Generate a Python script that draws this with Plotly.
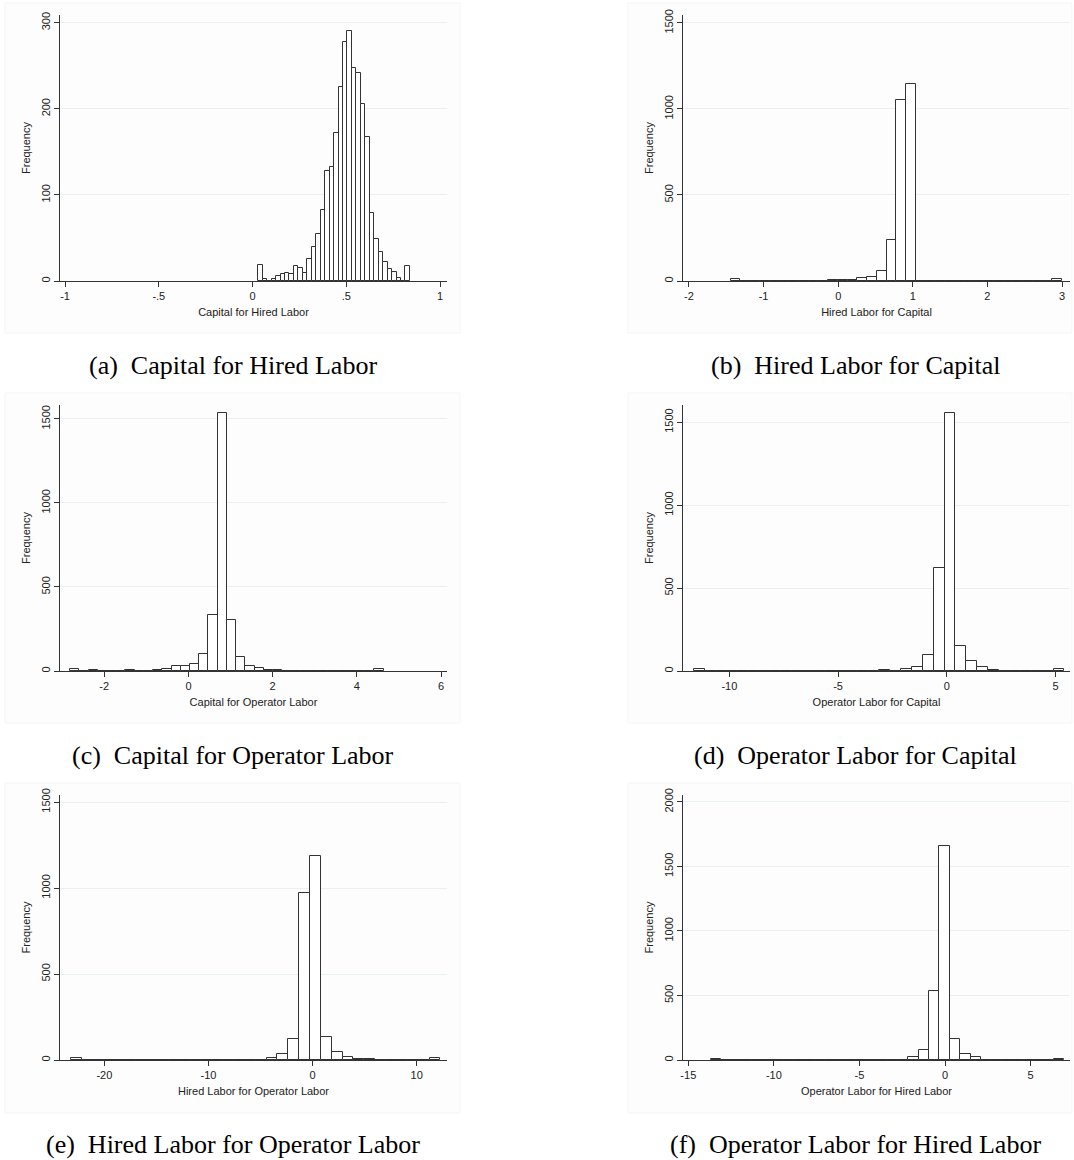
import numpy as np
import plotly.graph_objects as go

# ---------------- data ----------------
titles = ["Capital for Hired Labor", "Hired Labor for Capital",
          "Capital for Operator Labor", "Operator Labor for Capital",
          "Hired Labor for Operator Labor", "Operator Labor for Hired Labor"]
letters = ["(a)", "(b)", "(c)", "(d)", "(e)", "(f)"]

# histogram bin starts / widths (34 bins each) and frequencies
bin_start = [0.03, -1.44, -2.81, -11.63, -23.19, -13.68]
bin_width = [0.0238, 0.1306, 0.219, 0.501, 1.043, 0.607]

counts_a = [19, 2, 0, 2, 6, 8, 9, 8, 17, 15, 9, 25, 40, 55, 82, 128, 132, 172,
            225, 278, 290, 247, 242, 206, 167, 79, 49, 34, 22, 14, 10, 4, 0, 18]
counts_b = [10, 1, 1, 0, 0, 1, 1, 1, 1, 2, 3, 5, 8, 15, 26, 61, 240, 1050,
            1145, 0, 0, 0, 1, 1, 0, 1, 1, 1, 1, 1, 1, 0, 1, 10]
counts_c = [12, 0, 4, 0, 2, 2, 4, 2, 3, 5, 10, 30, 32, 40, 100, 334, 1536, 302,
            86, 28, 16, 8, 5, 3, 2, 1, 1, 1, 1, 1, 1, 1, 0, 12]
counts_d = [10, 1, 0, 0, 1, 1, 0, 0, 1, 1, 0, 1, 1, 1, 1, 0, 1, 5, 3, 10, 22,
            96, 621, 1554, 153, 58, 22, 4, 3, 0, 0, 0, 0, 10]
counts_e = [10, 2, 0, 1, 0, 1, 0, 1, 1, 1, 0, 1, 1, 1, 0, 0, 2, 2, 14, 33, 120,
            973, 1186, 132, 44, 19, 8, 4, 0, 0, 0, 0, 0, 14]
counts_f = [11, 2, 0, 1, 1, 0, 0, 1, 0, 0, 1, 1, 1, 0, 0, 0, 0, 2, 3, 26, 80,
            532, 1657, 160, 44, 20, 3, 0, 0, 0, 0, 0, 0, 10]
all_counts = [counts_a, counts_b, counts_c, counts_d, counts_e, counts_f]

x_tickvals = [[-1, -0.5, 0, 0.5, 1], [-2, -1, 0, 1, 2, 3], [-2, 0, 2, 4, 6],
              [-10, -5, 0, 5], [-20, -10, 0, 10], [-15, -10, -5, 0, 5]]
x_ticktext = [["-1", "-.5", "0", ".5", "1"], ["-2", "-1", "0", "1", "2", "3"],
              ["-2", "0", "2", "4", "6"], ["-10", "-5", "0", "5"],
              ["-20", "-10", "0", "10"], ["-15", "-10", "-5", "0", "5"]]
y_tickvals = [[0, 100, 200, 300], [0, 500, 1000, 1500], [0, 500, 1000, 1500],
              [0, 500, 1000, 1500], [0, 500, 1000, 1500],
              [0, 500, 1000, 1500, 2000]]

# ---------------- layout parameters ----------------
W, H = 1074, 1160
x_ranges = [[-1.027, 1.037], [-2.080, 3.107], [-3.05, 6.14],
            [-12.13, 5.66], [-24.26, 12.91], [-15.31, 7.30]]
y_ranges = [[0, 309], [0, 1546], [0, 1583], [0, 1604], [0, 1541], [0, 2054]]

col_px = [(60, 447), (683, 1070)]
row_px = [(15, 281), (405, 671), (795, 1060)]
caption_y = [365, 755, 1144]
region_px = [(5, 460), (628, 1072)]
region_rows = [(3, 333), (393, 723), (783, 1113)]

AX_COL = "#333333"
GRID_COL = "#e8f0f1"
TXT_COL = "#222222"
SANS = "Liberation Sans, Arial, sans-serif"
SERIF = "Liberation Serif, Times New Roman, serif"

fig = go.Figure()
layout = dict(width=W, height=H, margin=dict(l=0, r=0, t=0, b=0),
              paper_bgcolor="white", plot_bgcolor="white",
              showlegend=False, bargap=0, annotations=[], shapes=[])

for i in range(6):
    r, c = divmod(i, 2)
    idx = "" if i == 0 else str(i + 1)
    n = len(all_counts[i])
    centers = bin_start[i] + bin_width[i] * (np.arange(n) + 0.5)
    fig.add_trace(go.Bar(
        x=centers, y=all_counts[i], width=bin_width[i],
        marker=dict(color="white", line=dict(color=AX_COL, width=1)),
        xaxis="x" + idx, yaxis="y" + idx, hoverinfo="x+y"))

    x0, x1 = col_px[c]
    y0, y1 = row_px[r]
    layout["xaxis" + idx] = dict(
        domain=[x0 / W, x1 / W], range=x_ranges[i], anchor="y" + idx,
        tickvals=x_tickvals[i], ticktext=x_ticktext[i],
        ticks="outside", ticklen=5, tickcolor=AX_COL, tickwidth=1,
        showline=True, linecolor=AX_COL, linewidth=1, showgrid=False,
        zeroline=False, fixedrange=True,
        tickfont=dict(family=SANS, size=11, color=TXT_COL),
        title=dict(text=titles[i], standoff=7,
                   font=dict(family=SANS, size=11, color=TXT_COL)),
        automargin=False)
    layout["yaxis" + idx] = dict(
        domain=[1 - y1 / H, 1 - y0 / H], range=y_ranges[i], anchor="x" + idx,
        tickvals=y_tickvals[i], tickangle=-90,
        ticks="outside", ticklen=5, tickcolor=AX_COL, tickwidth=1,
        showline=True, linecolor=AX_COL, linewidth=1,
        showgrid=True, gridcolor=GRID_COL, gridwidth=1,
        zeroline=False, fixedrange=True,
        tickfont=dict(family=SANS, size=11, color=TXT_COL),
        title=dict(text="Frequency", standoff=6,
                   font=dict(family=SANS, size=11, color=TXT_COL)),
        automargin=False)

    rx0, rx1 = region_px[c]
    ry0, ry1 = region_rows[r]
    layout["shapes"].append(dict(
        type="rect", xref="paper", yref="paper", layer="below",
        x0=rx0 / W, x1=rx1 / W, y0=1 - ry1 / H, y1=1 - ry0 / H,
        fillcolor="#fdfdfd", line=dict(color="#f5f5f5", width=1)))

    layout["annotations"].append(dict(
        text=letters[i] + "\u00a0\u00a0" + titles[i],
        xref="paper", yref="paper", x=((x0 + x1) / 2 - 21) / W,
        y=1 - caption_y[r] / H, xanchor="center", yanchor="middle",
        showarrow=False, font=dict(family=SERIF, size=26, color="black")))

fig.update_layout(**layout)
fig.write_html(
    "out.html",
    config={"displayModeBar": False, "staticPlot": False},
    post_script="document.body.style.margin='0';"
                "document.body.style.overflow='hidden';")
